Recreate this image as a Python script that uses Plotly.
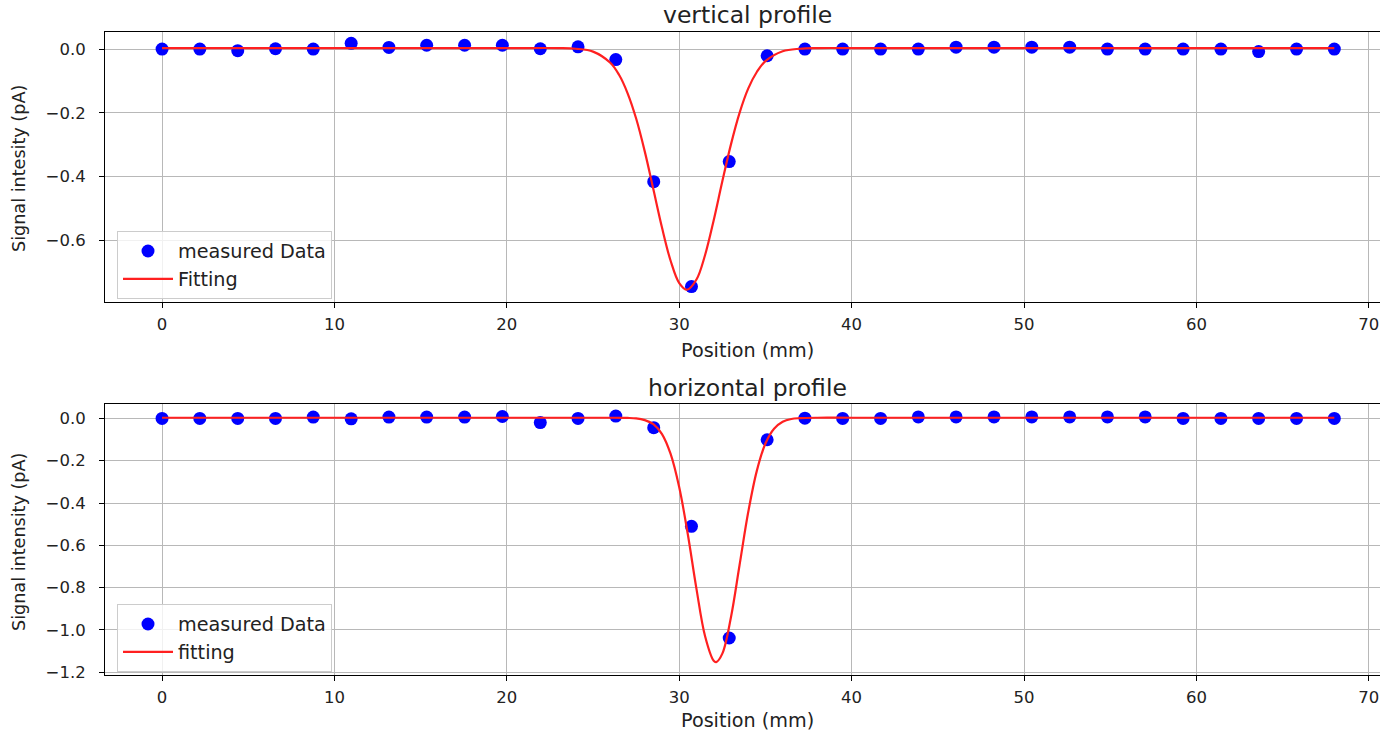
import plotly.graph_objects as go

# ---- data ----
positions = [0.0, 2.19, 4.39, 6.58, 8.77, 10.97, 13.16, 15.35, 17.55, 19.74, 21.94,
             24.13, 26.32, 28.52, 30.71, 32.90, 35.10, 37.29, 39.48, 41.68, 43.87,
             46.06, 48.26, 50.45, 52.65, 54.84, 57.03, 59.23, 61.42, 63.61, 65.81, 68.0]

vertical_signal = [0.0, 0.0, -0.005, 0.001, 0.0, 0.018, 0.005, 0.012, 0.012, 0.012, 0.001,
                   0.007, -0.033, -0.416, -0.745, -0.353, -0.021, 0.0, 0.0, 0.0, 0.0,
                   0.006, 0.006, 0.006, 0.006, 0.0, 0.0, 0.0, 0.0, -0.008, 0.0, 0.0]

horizontal_signal = [0.0, 0.0, 0.0, 0.0, 0.006, -0.002, 0.006, 0.006, 0.006, 0.009, -0.02,
                     0.0, 0.011, -0.044, -0.51, -1.038, -0.101, 0.001, 0.0, 0.0, 0.007,
                     0.007, 0.007, 0.007, 0.007, 0.007, 0.007, 0.0, 0.0, 0.0, 0.0, 0.0]

vertical_fit_x = [0, 20, 23, 24, 25, 26, 26.5, 27, 27.5, 28, 28.5, 29, 29.5, 30, 30.45,
                  31, 31.5, 32, 32.5, 33, 33.5, 34, 34.5, 35, 36, 37, 38, 41, 68]
vertical_fit_y = [0.003, 0.003, 0.003, 0.001, -0.008, -0.043, -0.080, -0.138, -0.218, -0.321,
                  -0.440, -0.560, -0.664, -0.734, -0.755, -0.723, -0.646, -0.537, -0.415,
                  -0.299, -0.200, -0.124, -0.072, -0.038, -0.007, 0.001, 0.003, 0.003, 0.003]

horizontal_fit_x = [0, 24, 26, 27, 27.5, 28, 28.5, 29, 29.5, 30, 30.5, 31, 31.5, 32, 32.14,
                    32.5, 33, 33.5, 34, 34.5, 35, 35.5, 36, 36.5, 37, 38, 40, 68]
horizontal_fit_y = [0.003, 0.003, 0.003, 0.002, 0.0, -0.008, -0.027, -0.074, -0.168, -0.326,
                    -0.549, -0.806, -1.030, -1.146, -1.152, -1.112, -0.940, -0.693, -0.444,
                    -0.248, -0.119, -0.049, -0.016, -0.003, 0.001, 0.003, 0.003, 0.003]

top_title = "vertical profile"
bottom_title = "horizontal profile"
x_label = "Position (mm)"
top_y_label = "Signal intesity (pA)"
bottom_y_label = "Signal intensity (pA)"

# ---- figure ----
FONT = "DejaVu Sans"
TXT = "#222222"
TICK_SIZE = 16.5
LABEL_SIZE = 19.2
YLABEL_SIZE = 17.6
TITLE_SIZE = 23.5
LEGEND_SIZE = 19.2

fig = go.Figure()
fig.add_trace(go.Scatter(x=positions, y=vertical_signal, mode="markers", name="measured Data",
                         marker=dict(color="#0000ff", size=13), xaxis="x", yaxis="y",
                         legend="legend"))
fig.add_trace(go.Scatter(x=vertical_fit_x, y=vertical_fit_y, mode="lines", name="Fitting",
                         line=dict(color="#ff2020", width=2.2, shape="spline"),
                         xaxis="x", yaxis="y", legend="legend"))
fig.add_trace(go.Scatter(x=positions, y=horizontal_signal, mode="markers", name="measured Data",
                         marker=dict(color="#0000ff", size=13), xaxis="x2", yaxis="y2",
                         legend="legend2"))
fig.add_trace(go.Scatter(x=horizontal_fit_x, y=horizontal_fit_y, mode="lines", name="fitting",
                         line=dict(color="#ff2020", width=2.2, shape="spline"),
                         xaxis="x2", yaxis="y2", legend="legend2"))

axis_common = dict(showline=True, mirror=True, linecolor="black", linewidth=1,
                   ticks="outside", ticklen=5, tickcolor="black", tickwidth=1,
                   showgrid=True, gridcolor="#b8b8b8", gridwidth=1, zeroline=False,
                   tickfont=dict(family=FONT, size=TICK_SIZE, color=TXT))

W, H = 1380, 731
L, R, T, B = 105, 0, 32, 56
ph = H - T - B

def py(p):
    return (H - B - p) / ph

def px(p):
    return (p - L) / (W - L - R)

legend_common = dict(xanchor="left", yanchor="top", itemwidth=50,
                     bgcolor="rgba(255,255,255,0.8)", bordercolor="#cccccc", borderwidth=1,
                     font=dict(family=FONT, size=LEGEND_SIZE, color=TXT))

fig.update_layout(
    width=W, height=H,
    margin=dict(l=L, r=R, t=T, b=B),
    plot_bgcolor="white", paper_bgcolor="white",
    font=dict(family=FONT, size=14, color=TXT),
    xaxis=dict(domain=[0, 1], anchor="y", range=[-3.31, 70.65], dtick=10,
               ticklabelstandoff=2, **axis_common),
    yaxis=dict(domain=[py(302), 1.0], anchor="x", range=[-0.7935, 0.0535], dtick=0.2,
               tickformat=".1f", ticklabelstandoff=10, **axis_common),
    xaxis2=dict(domain=[0, 1], anchor="y2", range=[-3.31, 70.65], dtick=10,
                ticklabelstandoff=2, **axis_common),
    yaxis2=dict(domain=[0, py(404)], anchor="x2", range=[-1.213, 0.068], dtick=0.2,
                tickformat=".1f", ticklabelstandoff=10, **axis_common),
    legend=dict(x=px(117), y=py(231), **legend_common),
    legend2=dict(x=px(117), y=py(604), **legend_common),
    showlegend=True,
)

ann = []
ann.append(dict(text=top_title, x=px(747), y=py(15), xref="paper", yref="paper",
                showarrow=False, font=dict(family=FONT, size=TITLE_SIZE, color=TXT),
                xanchor="center", yanchor="middle"))
ann.append(dict(text=bottom_title, x=px(747), y=py(388), xref="paper", yref="paper",
                showarrow=False, font=dict(family=FONT, size=TITLE_SIZE, color=TXT),
                xanchor="center", yanchor="middle"))
ann.append(dict(text=x_label, x=px(747), y=py(350), xref="paper", yref="paper",
                showarrow=False, font=dict(family=FONT, size=LABEL_SIZE, color=TXT),
                xanchor="center", yanchor="middle"))
ann.append(dict(text=x_label, x=px(747), y=py(720), xref="paper", yref="paper",
                showarrow=False, font=dict(family=FONT, size=LABEL_SIZE, color=TXT),
                xanchor="center", yanchor="middle"))
ann.append(dict(text=top_y_label, x=px(19), y=py(169), xref="paper", yref="paper",
                showarrow=False, textangle=-90, font=dict(family=FONT, size=YLABEL_SIZE, color=TXT),
                xanchor="center", yanchor="middle"))
ann.append(dict(text=bottom_y_label, x=px(19), y=py(542), xref="paper", yref="paper",
                showarrow=False, textangle=-90, font=dict(family=FONT, size=YLABEL_SIZE, color=TXT),
                xanchor="center", yanchor="middle"))
fig.update_layout(annotations=ann)

fig.write_html("out.html")
